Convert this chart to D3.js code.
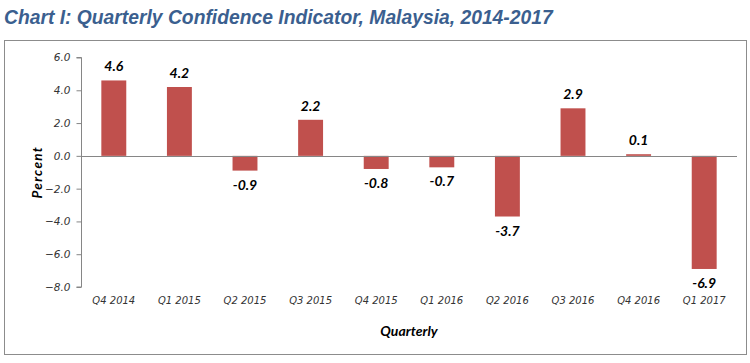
<!DOCTYPE html>
<html>
<head>
<meta charset="utf-8">
<script src="https://d3js.org/d3.v7.min.js"></script>
<style>
body { margin: 0; background: #fff; }
text { font-family: "Liberation Sans", Arial, sans-serif; }
.title { font-family: "Liberation Sans Narrow", "Liberation Sans", sans-serif; font-weight: bold; font-style: italic; fill: #3b5f8f; }
.tick text { font-family: "DejaVu Sans", Verdana, sans-serif; font-style: italic; fill: #333; }
.lbl { font-family: Lato, "Open Sans", sans-serif; font-weight: bold; font-style: italic; fill: #000; }
</style>
</head>
<body>
<script>
var quarters = ["Q4 2014", "Q1 2015", "Q2 2015", "Q3 2015", "Q4 2015", "Q1 2016", "Q2 2016", "Q3 2016", "Q4 2016", "Q1 2017"];
var values = [4.6, 4.2, -0.9, 2.2, -0.8, -0.7, -3.7, 2.9, 0.1, -6.9];
var yTicks = [6, 4, 2, 0, -2, -4, -6, -8];

var W = 750, H = 363;
var x0 = 81, x1 = 737, yTop = 57.5, yBot = 287;

var svg = d3.select("body").append("svg").attr("width", W).attr("height", H);

svg.append("text").attr("class", "title")
  .attr("x", 4).attr("y", 24)
  .style("font-size", "19.3px")
  .text("Chart I: Quarterly Confidence Indicator, Malaysia, 2014-2017");

svg.append("rect")
  .attr("x", 4.5).attr("y", 40.5).attr("width", 742).attr("height", 314)
  .attr("fill", "none").attr("stroke", "#8c8c8c").attr("stroke-width", 1);

var x = d3.scaleBand().domain(quarters).range([x0, x1]).paddingInner(0.62).paddingOuter(0.31);
var y = d3.scaleLinear().domain([-8, 6]).range([yBot, yTop]);

var yAxis = svg.append("g").attr("transform", "translate(" + (x0 + 0.5) + ",0)")
  .call(d3.axisLeft(y).tickValues(yTicks).tickFormat(d3.format(".1f")).tickSize(5).tickPadding(6));
yAxis.selectAll("path, line").attr("stroke", "#868686");
yAxis.selectAll("text").style("font-size", "10.5px");
yAxis.select(".domain").attr("d", "M-5," + yTop + "H0V" + yBot + "H-5");

svg.selectAll(".bar").data(values).enter().append("rect")
  .attr("class", "bar")
  .attr("x", function(d, i) { return x(quarters[i]); })
  .attr("width", x.bandwidth())
  .attr("y", function(d) { return y(Math.max(0, d)); })
  .attr("height", function(d) { return Math.abs(y(d) - y(0)); })
  .attr("fill", "#c0504d");

svg.append("line")
  .attr("x1", x0).attr("x2", x1)
  .attr("y1", Math.round(y(0)) + 0.5).attr("y2", Math.round(y(0)) + 0.5)
  .attr("stroke", "#868686");

var xAxis = svg.append("g").attr("transform", "translate(0," + (yBot + 7) + ")")
  .call(d3.axisBottom(x).tickSize(0).tickPadding(3));
xAxis.select(".domain").remove();
xAxis.selectAll("text").style("font-size", "10px");

svg.selectAll(".lbl").data(values).enter().append("text")
  .attr("class", "lbl")
  .attr("text-anchor", "middle")
  .style("font-size", "14px")
  .attr("x", function(d, i) { return x(quarters[i]) + x.bandwidth() / 2; })
  .attr("y", function(d) { return d >= 0 ? y(d) - 9 : y(d) + 19; })
  .text(function(d) { return d.toFixed(1); });

svg.append("text").attr("class", "lbl")
  .attr("transform", "translate(42," + ((yTop + yBot) / 2) + ") rotate(-90)")
  .attr("text-anchor", "middle")
  .style("font-size", "13.5px")
  .style("letter-spacing", "1.3px")
  .text("Percent");

svg.append("text").attr("class", "lbl")
  .attr("x", (x0 + x1) / 2).attr("y", 336)
  .attr("text-anchor", "middle")
  .style("font-size", "14px")
  .text("Quarterly");
</script>
</body>
</html>
